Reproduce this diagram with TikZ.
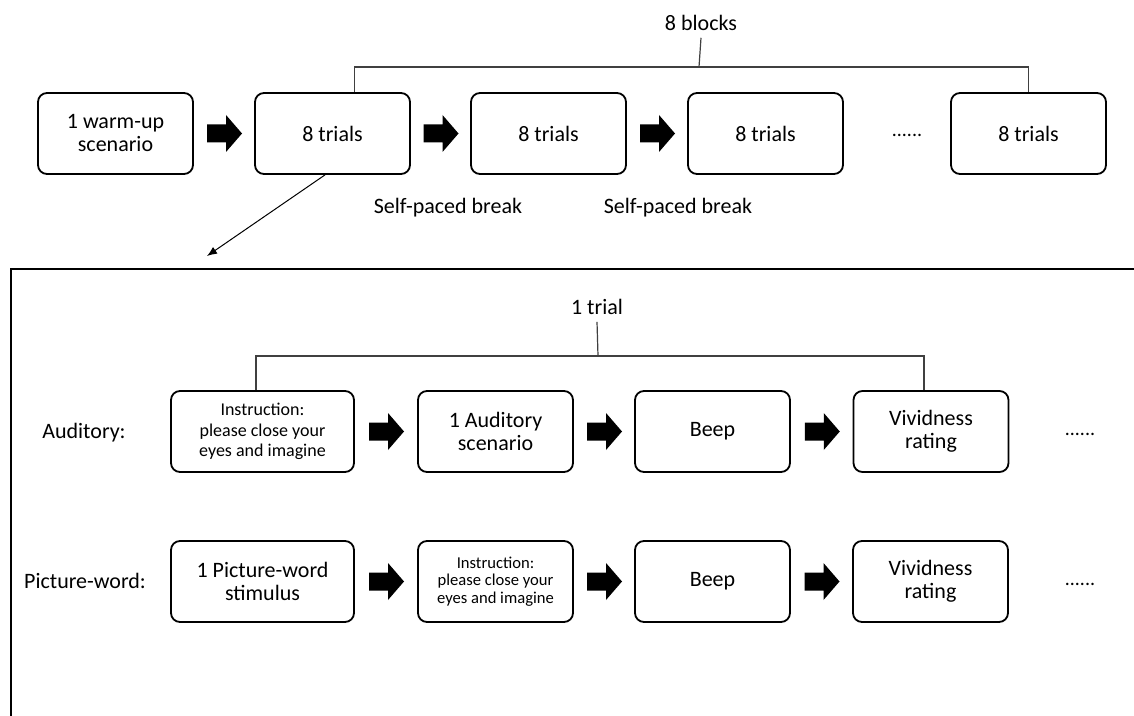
\documentclass[tikz,border=0pt]{standalone}
\usepackage{fontspec}
\setmainfont{Carlito}
\usetikzlibrary{calc,arrows.meta}

\begin{document}
\begin{tikzpicture}[x=0.5pt,y=-0.5pt,
    font=\fontsize{11}{11.5}\selectfont,
    stage/.style={draw, line width=0.9pt, rounded corners=4.5pt, align=center,
      minimum width=77.5pt, minimum height=40.5pt, inner sep=2pt},
    widestage/.style={stage, minimum width=91.5pt},
    etc/.style={anchor=base, font=\fontsize{10}{10}\selectfont},
    bar/.style={line width=0.6pt, black!75},
    barrow/.pic={\fill (-17,-9) -- (2,-9) -- (2,-18.5) -- (18,0) -- (2,18.5) -- (2,9) -- (-17,9) -- cycle;}]
    \useasboundingbox (0,0) rectangle (1134,716);

    % Blocks
    \node (blk) at (701,23) {8 blocks};
    \node[stage] (t0) at (115.5,133.5) {1 warm-up\\scenario};
    \node[stage] (t1) at (332.5,133.5) {8 trials};
    \node[stage] (t2) at (548.5,133.5) {8 trials};
    \node[stage] (t3) at (765.5,133.5) {8 trials};
    \node[etc] (tdots) at (907,137) {......};
    \node[stage] (t4) at (1028.5,133.5) {8 trials};
    \pic at ($(t0.east)!0.5!(t1.west)$) {barrow};
    \pic at ($(t1.east)!0.5!(t2.west)$) {barrow};
    \pic at ($(t2.east)!0.5!(t3.west)$) {barrow};
    \node (brk1) at (448,208) {Self-paced break};
    \node (brk2) at (678,208) {Self-paced break};

    % Bracket over the blocks
    \coordinate (topbar) at (699,67);
    \draw[bar] (blk.south) -- (topbar);
    \draw[bar] ([xshift=11pt]t1.north) |- (topbar) -| (t4.north);

    % Zoom into one block
    \coordinate (zoomin) at (207,256);
    \draw[line width=0.5pt, -{Latex[length=5pt,width=4pt]}] ([xshift=-3.75pt]t1.south) -- (zoomin);

    % Trial frame
    \draw[line width=0.8pt] (11,716) -- (11,269) -- (1134,269);

    \node (trl) at (597,307) {1 trial};

    % Auditory
    \node (aud) at (84,433) {Auditory:};
    \node[widestage, font=\fontsize{9}{10.2}\selectfont] (a1) at (262.5,431.5) {Instruction:\\please close your\\eyes and imagine};
    \node[stage] (a2) at (495.5,431.5) {1 Auditory\\scenario};
    \node[stage] (a3) at (712.5,431.5) {Beep};
    \node[stage] (a4) at (931,431.5) {Vividness\\rating};
    \node[etc] (adots) at (1080,435) {......};
    \pic at ($(a1.east)!0.5!(a2.west)$) {barrow};
    \pic at ($(a2.east)!0.5!(a3.west)$) {barrow};
    \pic at ($(a3.east)!0.5!(a4.west)$) {barrow};

    % Bracket over one trial
    \coordinate (trialbar) at (598,356);
    \draw[bar] (trl.south) -- (trialbar);
    \draw[bar] ([xshift=-3.25pt]a1.north) |- (trialbar) -| ([xshift=-3.5pt]a4.north);

    % Picture-word
    \node (pic) at (85,581) {Picture-word:};
    \node[widestage] (b1) at (262.5,581.5) {1 Picture-word\\stimulus};
    \node[stage, font=\fontsize{8.3}{8.8}\selectfont] (b2) at (495.5,581.5) {Instruction:\\please close your\\eyes and imagine};
    \node[stage] (b3) at (712.5,581.5) {Beep};
    \node[stage] (b4) at (930.5,581.5) {Vividness\\rating};
    \node[etc] (bdots) at (1080,585) {......};
    \pic at ($(b1.east)!0.5!(b2.west)$) {barrow};
    \pic at ($(b2.east)!0.5!(b3.west)$) {barrow};
    \pic at ($(b3.east)!0.5!(b4.west)$) {barrow};
\end{tikzpicture}
\end{document}
